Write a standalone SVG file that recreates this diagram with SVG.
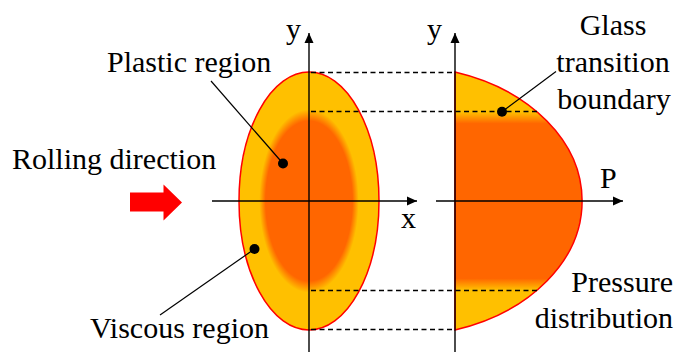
<svg xmlns="http://www.w3.org/2000/svg" width="676" height="352" viewBox="0 0 676 352">
<style>
text{font-family:"Liberation Serif","Times New Roman",serif;font-size:30px;fill:#000}
.ax{stroke:#000;stroke-width:1.4;fill:none}
.ld{stroke:#000;stroke-width:1.2;fill:none}
.dash{stroke:#000;stroke-width:1.3;stroke-dasharray:5,3.5;fill:none}
.dot{fill:#000}
</style>
<defs>
<radialGradient id="rg" cx="0.5" cy="0.5" r="0.5">
<stop offset="0.62" stop-color="#FF6600"/>
<stop offset="0.71" stop-color="#FFC000"/>
<stop offset="1" stop-color="#FFC000"/>
</radialGradient>
<linearGradient id="lg" gradientUnits="userSpaceOnUse" x1="0" y1="72" x2="0" y2="330">
<stop offset="0.155" stop-color="#FFC000"/>
<stop offset="0.2" stop-color="#FF6600"/>
<stop offset="0.8" stop-color="#FF6600"/>
<stop offset="0.845" stop-color="#FFC000"/>
</linearGradient>
<marker id="ah" viewBox="0 0 10 10" refX="10" refY="5" markerWidth="10" markerHeight="10" markerUnits="userSpaceOnUse" orient="auto">
<path d="M0,0.5 L10,5 L0,9.5 Z" fill="#000"/>
</marker>
</defs>
<g id="ellipse-section">
<ellipse cx="309" cy="201" rx="70" ry="129" fill="url(#rg)" stroke="#FF0000" stroke-width="1.5"/>
</g>
<g id="pressure-distribution">
<path d="M455,72 A182,135.3 0 0 1 455,330 Z" fill="url(#lg)" stroke="#FF0000" stroke-width="1.5"/>
</g>
<g id="rolling-arrow">
<path d="M130,192.5 L163.5,192.5 L163.5,184.5 L182,202.5 L163.5,220.5 L163.5,211.5 L130,211.5 Z" fill="#FF0000"/>
</g>
<g id="connectors">
<line class="dash" x1="311" y1="72.5" x2="455" y2="72.5"/>
<line class="dash" x1="311" y1="111.5" x2="537" y2="111.5"/>
<line class="dash" x1="311" y1="290.5" x2="537" y2="290.5"/>
<line class="dash" x1="311" y1="329.5" x2="455" y2="329.5"/>
<line class="ax" x1="309" y1="352" x2="309" y2="33" marker-end="url(#ah)"/>
<line class="ax" x1="212" y1="201" x2="417" y2="201" marker-end="url(#ah)"/>
<line class="ax" x1="455" y1="352" x2="455" y2="33" marker-end="url(#ah)"/>
<line class="ax" x1="436" y1="201" x2="623" y2="201" marker-end="url(#ah)"/>
<line class="ld" x1="211" y1="81" x2="283" y2="163.5"/>
<line class="ld" x1="160" y1="315" x2="254.5" y2="249"/>
<line class="ld" x1="502" y1="111.7" x2="556" y2="71.5"/>
<circle class="dot" cx="283" cy="163.5" r="5"/>
<circle class="dot" cx="254.5" cy="249" r="5"/>
<circle class="dot" cx="502" cy="111.7" r="5"/>
</g>
<g id="labels">
<text x="286" y="39">y</text>
<text x="427" y="39">y</text>
<text x="401" y="228">x</text>
<text x="600" y="188">P</text>
<text x="107" y="72">Plastic region</text>
<text x="12" y="169">Rolling direction</text>
<text x="90" y="338">Viscous region</text>
<text x="613" y="35" text-anchor="middle">Glass</text>
<text x="613" y="72" text-anchor="middle">transition</text>
<text x="614" y="109" text-anchor="middle">boundary</text>
<text x="673" y="292" text-anchor="end">Pressure</text>
<text x="673" y="328" text-anchor="end">distribution</text>
</g>
</svg>
